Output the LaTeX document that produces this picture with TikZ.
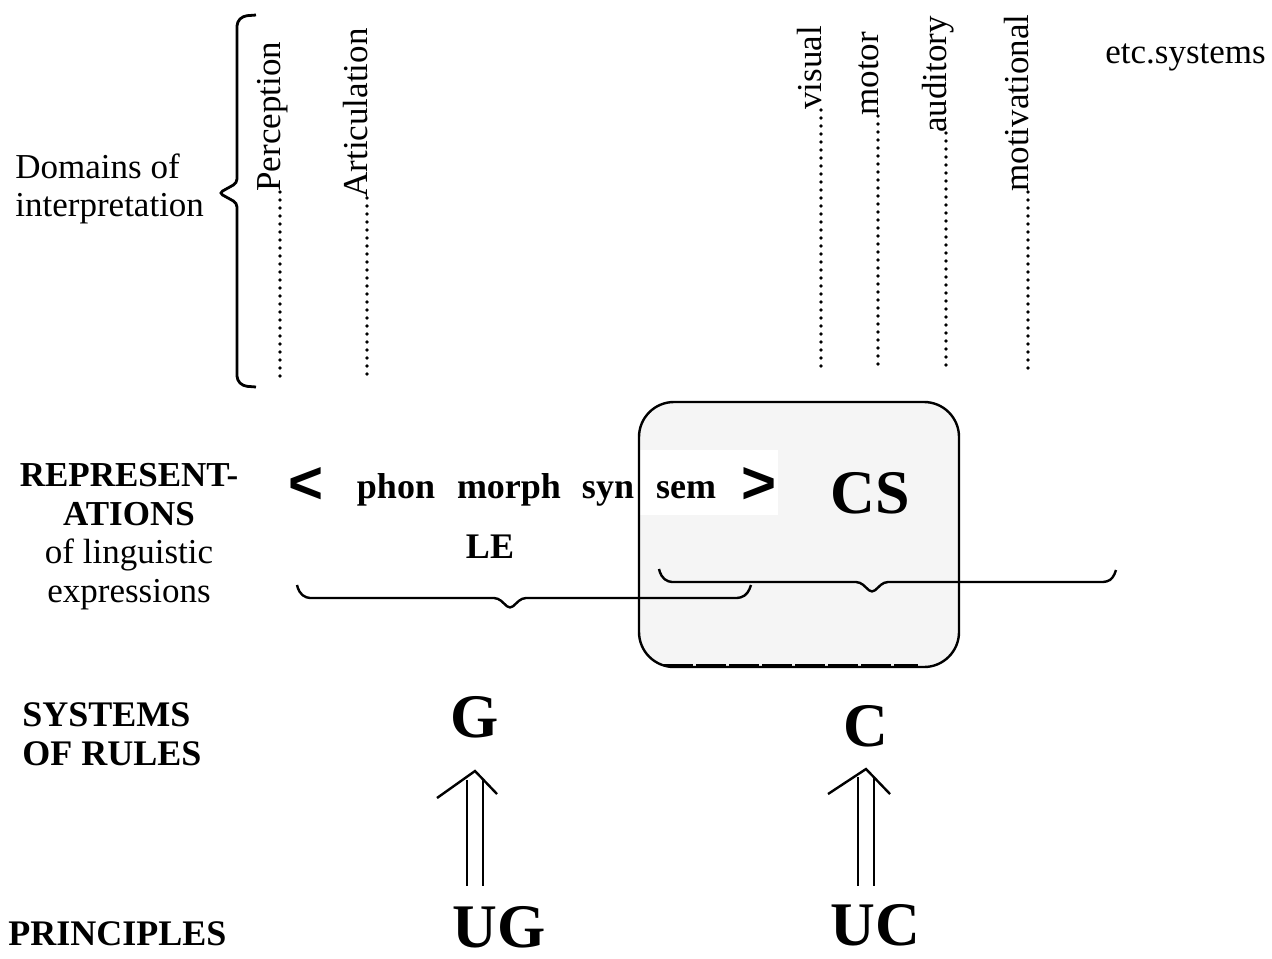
\documentclass[tikz,border=0pt]{standalone}
\usepackage{fontspec}
\setmainfont{Liberation Serif}
\newfontfamily\ltgtfont{Liberation Sans}
\usetikzlibrary{calc}

\tikzset{
    lbl/.style={font=\fontsize{17.5}{19.25}\selectfont, inner sep=0pt},
    head/.style={font=\fontsize{18}{19.5}\selectfont\bfseries, inner sep=0pt},
    big/.style={font=\fontsize{31}{36}\selectfont\bfseries, inner sep=0pt},
    ltgt/.style={font=\fontsize{30}{36}\selectfont\ltgtfont\bfseries, inner sep=0pt},
    dotline/.style={line width=1.8pt, line cap=round, dash pattern=on 0pt off 4pt},
    brc/.style={line width=1.2pt, rounded corners=2pt},
    dbl/.style={double, double distance=7pt, line width=1.1pt},
}

\begin{document}
\begin{tikzpicture}[x=0.5pt,y=-0.5pt]
        \useasboundingbox (0,0) rectangle (1272,958);
        % box round CS
        \fill[black!4,rounded corners=17.5pt] (639,402) rectangle (959,667);
        \fill[white] (639,450) rectangle (778,515);
        % domains
        \draw[brc,line width=1.4pt] (256,15) -- (243,16) -- (237,22) -- (237,183) -- (219,193) -- (237,203) -- (237,380) -- (243,386) -- (256,387);
        \node[lbl,anchor=north west,align=left] (dom) at (15,153) {Domains of\\interpretation};
        \foreach \nm/\x/\y/\yy/\txt in {perc/280/192/380/Perception,artic/367/198/380/Articulation,vis/821/110/367/visual,mot/878/116/365/motor,aud/946/133/367/auditory,motv/1028/192/368/motivational}{
            \node[lbl,rotate=90,anchor=base west] (\nm) at (\x,\y) {\txt};
            \coordinate (\nm-end) at (\x,\yy);
            \draw[dotline] (\nm.base west) -- (\nm-end);
        }
        \node[lbl,anchor=base west] (etc) at (1105,63) {etc.systems};
        % representations
        \node[lbl,anchor=north,align=center] (repr) at (129,463) {\textbf{REPRESENT-}\\\textbf{ATIONS}\\of linguistic\\expressions};
        \node[ltgt] (lt) at (306,485) {<};
        \node[head,anchor=base] (phon) at (396,498) {phon};
        \node[head,anchor=base] (morph) at (509,498) {morph};
        \node[head,anchor=base] (syn) at (608,498) {syn};
        \node[head,anchor=base] (sem) at (686,498) {sem};
        \node[ltgt] (gt) at (759,485) {>};
        \node[big,anchor=base] (cs) at (870,513) {CS};
        \node[head,anchor=base] (le) at (490,558) {LE};
        \draw[brc] (297,585) -- (299,592) -- (306,598) -- (498,598) -- (510,609) -- (522,598) -- (741,598) -- (748,593) -- (751,585);
        \draw[brc] (659,569) -- (661,576) -- (668,582) -- (860,582) -- (872,593) -- (884,582) -- (1107,582) -- (1113,578) -- (1116,570);
        \draw[line width=1.2pt,rounded corners=17.5pt] (639,402) rectangle (959,667);
        \draw[line width=1.3pt,dash pattern=on 15pt off 1.5pt] (663,665) -- (918,665);
        % rules and principles
        \node[head,anchor=north west,align=left] (sys) at (22,702) {SYSTEMS\\OF RULES};
        \node[head,anchor=base west] (prin) at (8,945) {PRINCIPLES};
        \node[big,anchor=base] (g) at (475,737) {G};
        \node[big,anchor=base] (c) at (866,746) {C};
        \node[big,anchor=base] (ug) at (499,947) {UG};
        \node[big,anchor=base] (uc) at (875,945) {UC};
        \draw[dbl,shorten <=10pt,shorten >=21pt] (g.south |- ug.north) -- (g.south);
        \draw[dbl,shorten <=9pt,shorten >=15pt] (c.south |- uc.north) -- (c.south);
        \coordinate (gtip) at ($(g.south)+(0,33)$);
        \coordinate (ctip) at ($(c.south)+(0,22)$);
        \draw[line width=1.2pt] ($(gtip)+(-38,27)$) -- (gtip) -- ($(gtip)+(22,23)$);
        \draw[line width=1.2pt] ($(ctip)+(-38,25)$) -- (ctip) -- ($(ctip)+(24,25)$);
\end{tikzpicture}
\end{document}
